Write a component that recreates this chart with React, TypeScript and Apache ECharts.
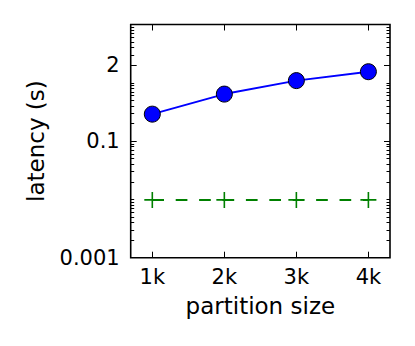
import React, { useEffect, useRef } from "react";
import * as echarts from "echarts";

const partitionSizes = [1, 2, 3, 4];
const xTickLabels = ["1k", "2k", "3k", "4k"];
const seriesBlue = [0.29, 0.64, 1.09, 1.55];
const seriesGreen = [0.0098, 0.0098, 0.0098, 0.0098];
const yMajorTicks = [0.001, 0.1, 2];
const yMinorTicks = [
  0.002, 0.003, 0.004, 0.005, 0.006, 0.007, 0.008, 0.009,
  0.01, 0.02, 0.03, 0.04, 0.05, 0.06, 0.07, 0.08, 0.09,
  0.2, 0.3, 0.4, 0.5, 0.6, 0.7, 0.8, 0.9,
  1, 3, 4, 5, 6, 7, 8, 9, 10,
];

const FONT = "DejaVu Sans";
const FS = 21;
const FS_NAME = 23;

export default function App() {
  const ref = useRef<HTMLDivElement>(null);
  useEffect(() => {
    if (!ref.current) return;
    const chart = echarts.init(ref.current, null, { renderer: "svg" });
    const yBase = {
      type: "log" as const,
      logBase: 10,
      min: 0.001,
      max: 10,
      splitLine: { show: false },
      axisLine: { show: false },
      minorTick: { show: false },
    };
    const xBase = {
      type: "value" as const,
      min: 0.7,
      max: 4.3,
      splitLine: { show: false },
      axisLine: { show: false },
    };
    const majorTick = (vals: number[]) => ({
      show: true,
      inside: true,
      length: 6,
      lineStyle: { color: "#000", width: 1 },
      customValues: vals,
    });
    const minorTickS = (vals: number[]) => ({
      show: true,
      inside: true,
      length: 3.5,
      lineStyle: { color: "#000", width: 1 },
      customValues: vals,
    });
    chart.setOption({
      animation: false,
      backgroundColor: "#fff",
      grid: {
        left: 130.7,
        right: 25,
        top: 24.5,
        bottom: 88.3,
        show: true,
        borderColor: "#000",
        borderWidth: 1.6,
        backgroundColor: "transparent",
        containLabel: false,
        outerBoundsMode: "none",
      },
      xAxis: [
        {
          ...xBase,
          position: "bottom",
          axisTick: majorTick(partitionSizes),
          axisLabel: {
            customValues: partitionSizes,
            formatter: (v: number) => xTickLabels[partitionSizes.indexOf(v)] ?? "",
            color: "#000",
            fontFamily: FONT,
            fontSize: FS,
            margin: 9,
          },
          name: "partition size",
          nameLocation: "middle",
          nameGap: 37,
          nameTextStyle: { color: "#000", fontFamily: FONT, fontSize: FS_NAME },
        },
        {
          ...xBase,
          position: "top",
          axisTick: majorTick(partitionSizes),
          axisLabel: { show: false },
        },
      ],
      yAxis: [
        {
          ...yBase,
          position: "left",
          axisTick: majorTick(yMajorTicks),
          axisLabel: {
            customValues: yMajorTicks,
            formatter: (v: number) => String(v),
            color: "#000",
            fontFamily: FONT,
            fontSize: FS,
            margin: 11,
          },
          name: "latency (s)",
          nameLocation: "middle",
          nameGap: 83,
          nameTextStyle: { color: "#000", fontFamily: FONT, fontSize: FS_NAME },
        },
        {
          ...yBase,
          position: "left",
          axisTick: minorTickS(yMinorTicks),
          axisLabel: { show: false },
        },
        {
          ...yBase,
          position: "right",
          axisTick: majorTick(yMajorTicks),
          axisLabel: { show: false },
        },
        {
          ...yBase,
          position: "right",
          axisTick: minorTickS(yMinorTicks),
          axisLabel: { show: false },
        },
      ],
      series: [
        {
          type: "line",
          xAxisIndex: 0,
          yAxisIndex: 0,
          data: partitionSizes.map((x, i) => [x, seriesBlue[i]]),
          lineStyle: { color: "#0000ff", width: 2 },
          symbol: "circle",
          symbolSize: 16,
          itemStyle: { color: "#0000ff", borderColor: "#000", borderWidth: 1 },
          z: 3,
        },
        {
          type: "line",
          xAxisIndex: 0,
          yAxisIndex: 0,
          data: partitionSizes.map((x, i) => [x, seriesGreen[i]]),
          lineStyle: { color: "#008000", width: 2, type: [11.7, 11.7] },
          symbol: "path://M0,8L16,8M8,0L8,16",
          symbolSize: 16,
          itemStyle: { color: "none", borderColor: "#008000", borderWidth: 1.6 },
          z: 2,
        },
      ],
    });
    return () => chart.dispose();
  }, []);
  return <div ref={ref} style={{ width: 415, height: 346, position: "absolute", left: 0, top: 0 }} />;
}
